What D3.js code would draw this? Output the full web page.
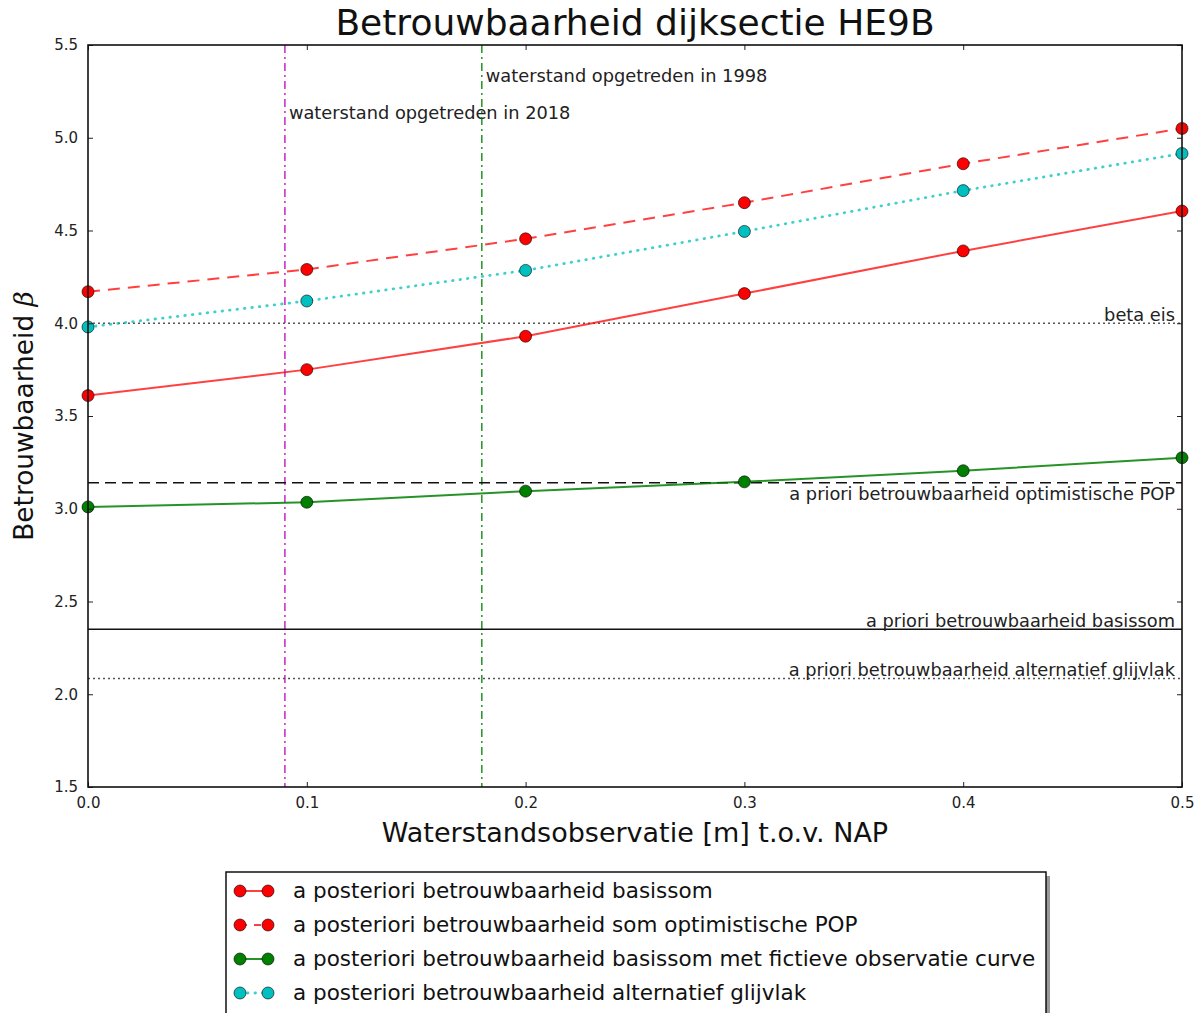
<!DOCTYPE html>
<html>
<head>
<meta charset="utf-8">
<script src="https://cdn.jsdelivr.net/npm/d3@7"></script>
<style>
  html, body { margin: 0; padding: 0; background: #fff; }
  svg { display: block; font-family: "DejaVu Sans", sans-serif; }
</style>
</head>
<body>
<svg id="chart" width="1202" height="1013"></svg>
<script>
// Waterstandsobservatie (m t.o.v. NAP)
const waterstand = [0.0, 0.1, 0.2, 0.3, 0.4, 0.5];

// a posteriori betrouwbaarheid per scenario
const basissom      = [3.61, 3.75, 3.93, 4.16, 4.39, 4.605];
const optimistisch  = [4.17, 4.29, 4.455, 4.65, 4.86, 5.05];
const fictief       = [3.01, 3.035, 3.095, 3.145, 3.205, 3.275];
const glijvlak      = [3.98, 4.12, 4.285, 4.495, 4.715, 4.915];

// horizontale referentielijnen (a priori en eis)
const refLabels = ["beta eis", "a priori betrouwbaarheid optimistische POP",
                   "a priori betrouwbaarheid basissom", "a priori betrouwbaarheid alternatief glijvlak"];
const refValues = [4.0, 3.14, 2.35, 2.085];

// opgetreden waterstanden
const eventLabels = ["waterstand opgetreden in 2018", "waterstand opgetreden in 1998"];
const eventValues = [0.09, 0.18];
const eventTextY  = [5.1, 5.3];

const xTicks = [0.0, 0.1, 0.2, 0.3, 0.4, 0.5];
const yTicks = [1.5, 2.0, 2.5, 3.0, 3.5, 4.0, 4.5, 5.0, 5.5];

const seriesNames = [
  "a posteriori betrouwbaarheid basissom",
  "a posteriori betrouwbaarheid som optimistische POP",
  "a posteriori betrouwbaarheid basissom met fictieve observatie curve",
  "a posteriori betrouwbaarheid alternatief glijvlak"
];

const svg = d3.select("#chart");
const m = { left: 88, right: 1182, top: 45, bottom: 787 };

const x = d3.scaleLinear().domain([0, 0.5]).range([m.left, m.right]);
const y = d3.scaleLinear().domain([1.5, 5.5]).range([m.bottom, m.top]);

const series = [
  { values: basissom,     line: "rgba(255,0,0,0.75)",  marker: "#ff0000", dash: null,    width: 2,   cap: "butt" },
  { values: optimistisch, line: "rgba(255,0,0,0.75)",  marker: "#ff0000", dash: "12,8",  width: 2,   cap: "butt" },
  { values: fictief,      line: "rgba(0,128,0,0.85)",  marker: "#008000", dash: null,    width: 2,   cap: "butt" },
  { values: glijvlak,     line: "rgba(0,191,191,0.75)",marker: "#00bfbf", dash: "0.5,7", width: 2.8, cap: "round" }
];

const refStyles = [
  { color: "#555", dash: "2,3",   width: 1.5, va: "bottom" },
  { color: "#111", dash: "11,6",  width: 1.5, va: "top" },
  { color: "#111", dash: null,    width: 1.5, va: "bottom" },
  { color: "#555", dash: "2,3",   width: 1.5, va: "bottom" }
];
const eventColors = ["#bf00bf", "#008000"];

const plot = svg.append("g");
plot.append("defs").append("clipPath").attr("id", "clip")
  .append("rect").attr("x", m.left).attr("y", m.top)
  .attr("width", m.right - m.left).attr("height", m.bottom - m.top);

// vertical event lines
eventValues.forEach((v, i) => {
  plot.append("line")
    .attr("x1", x(v)).attr("x2", x(v)).attr("y1", m.top).attr("y2", m.bottom)
    .attr("stroke", eventColors[i]).attr("stroke-width", 1.3)
    .attr("stroke-dasharray", "8,4,2,4");
  plot.append("text")
    .attr("x", x(v) + 4).attr("y", y(eventTextY[i]))
    .attr("font-size", 17.8).attr("fill", "#222")
    .text(eventLabels[i]);
});

// horizontal reference lines with labels
refValues.forEach((v, i) => {
  const s = refStyles[i];
  plot.append("line")
    .attr("x1", m.left).attr("x2", m.right).attr("y1", y(v)).attr("y2", y(v))
    .attr("stroke", s.color).attr("stroke-width", s.width)
    .attr("stroke-dasharray", s.dash);
  plot.append("text")
    .attr("x", m.right - 7)
    .attr("y", s.va === "top" ? y(v) + 17 : y(v) - 2)
    .attr("text-anchor", "end").attr("font-size", 17.8).attr("fill", "#222")
    .text(refLabels[i]);
});

// series lines
const lineGen = d3.line().x((d, i) => x(waterstand[i])).y(d => y(d));
const sg = plot.append("g").attr("clip-path", "url(#clip)");
series.forEach(s => {
  sg.append("path")
    .attr("d", lineGen(s.values))
    .attr("fill", "none").attr("stroke", s.line)
    .attr("stroke-width", s.width)
    .attr("stroke-dasharray", s.dash)
    .attr("stroke-linecap", s.cap);
});
// markers
const mg = plot.append("g");
series.forEach(s => {
  mg.selectAll(null).data(s.values).enter().append("circle")
    .attr("cx", (d, i) => x(waterstand[i])).attr("cy", d => y(d))
    .attr("r", 6).attr("fill", s.marker)
    .attr("stroke", "rgba(0,0,0,0.6)").attr("stroke-width", 1);
});

// axes frame and ticks (ticks point inward on all sides)
const tickLen = 5;
const axB = d3.axisBottom(x).tickValues(xTicks).tickFormat(d3.format(".1f")).tickSizeInner(-tickLen).tickSizeOuter(0).tickPadding(10);
const axT = d3.axisTop(x).tickValues(xTicks).tickFormat("").tickSizeInner(-tickLen).tickSizeOuter(0);
const axL = d3.axisLeft(y).tickValues(yTicks).tickFormat(d3.format(".1f")).tickSizeInner(-tickLen).tickSizeOuter(0).tickPadding(10);
const axR = d3.axisRight(y).tickValues(yTicks).tickFormat("").tickSizeInner(-tickLen).tickSizeOuter(0);

function styleAxis(g) {
  g.select(".domain").remove();
  g.selectAll(".tick line").attr("stroke", "#222").attr("stroke-width", 1);
  g.selectAll(".tick text").attr("font-size", 15).attr("fill", "#222")
    .attr("font-family", "DejaVu Sans, sans-serif");
}
svg.append("g").attr("transform", `translate(0,${m.bottom})`).call(axB).call(styleAxis);
svg.append("g").attr("transform", `translate(0,${m.top})`).call(axT).call(styleAxis);
svg.append("g").attr("transform", `translate(${m.left},0)`).call(axL).call(styleAxis);
svg.append("g").attr("transform", `translate(${m.right},0)`).call(axR).call(styleAxis);

svg.append("rect")
  .attr("x", m.left).attr("y", m.top)
  .attr("width", m.right - m.left).attr("height", m.bottom - m.top)
  .attr("fill", "none").attr("stroke", "#111").attr("stroke-width", 1.6);

// title and axis labels
svg.append("text")
  .attr("x", (m.left + m.right) / 2).attr("y", 35)
  .attr("text-anchor", "middle").attr("font-size", 36).attr("fill", "#111")
  .text("Betrouwbaarheid dijksectie HE9B");

svg.append("text")
  .attr("x", (m.left + m.right) / 2).attr("y", 842)
  .attr("text-anchor", "middle").attr("font-size", 27).attr("fill", "#111")
  .text("Waterstandsobservatie [m] t.o.v. NAP");

const yl = svg.append("text")
  .attr("transform", `translate(33,${(m.top + m.bottom) / 2}) rotate(-90)`)
  .attr("text-anchor", "middle").attr("font-size", 26.4).attr("fill", "#111");
yl.append("tspan").text("Betrouwbaarheid ");
yl.append("tspan").attr("font-style", "italic").attr("font-family", "DejaVu Serif, serif").text("β");

// legend with drop shadow
const lg = { x: 226, y: 872, w: 820, rowH: 34 };
const lh = 24 + seriesNames.length * lg.rowH;
svg.append("rect").attr("x", lg.x + 4).attr("y", lg.y + 4).attr("width", lg.w).attr("height", lh)
  .attr("fill", "#999");
svg.append("rect").attr("x", lg.x).attr("y", lg.y).attr("width", lg.w).attr("height", lh)
  .attr("fill", "#fff").attr("stroke", "#111").attr("stroke-width", 1.5);

seriesNames.forEach((name, i) => {
  const s = series[i];
  const cy = lg.y + 19 + i * lg.rowH;
  const row = svg.append("g");
  row.append("line").attr("x1", 240).attr("x2", 268).attr("y1", cy).attr("y2", cy)
    .attr("stroke", s.line).attr("stroke-width", s.width)
    .attr("stroke-dasharray", s.dash === "12,8" ? "7,7" : s.dash)
    .attr("stroke-linecap", s.cap);
  [240, 268].forEach(cx => row.append("circle").attr("cx", cx).attr("cy", cy).attr("r", 6)
    .attr("fill", s.marker).attr("stroke", "rgba(0,0,0,0.6)").attr("stroke-width", 1));
  row.append("text").attr("x", 293).attr("y", cy + 7)
    .attr("font-size", 21.5).attr("fill", "#111").text(name);
});
</script>
</body>
</html>
